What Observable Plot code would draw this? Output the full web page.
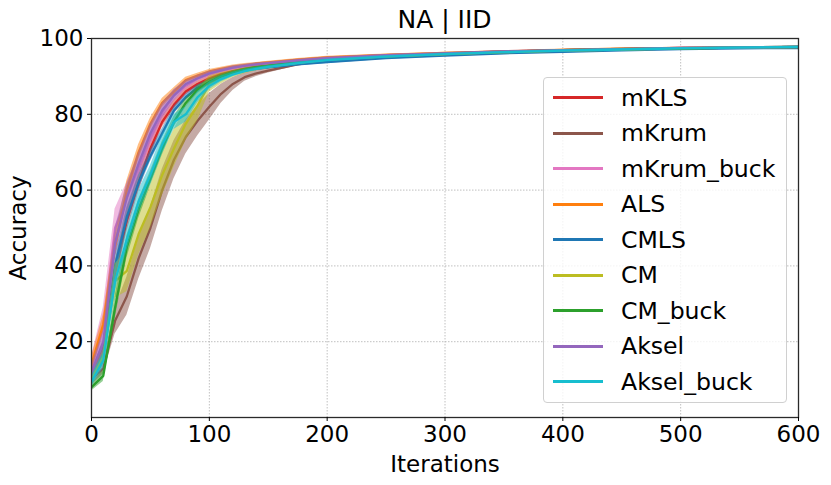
<!DOCTYPE html>
<html>
<head>
<meta charset="utf-8">
<script src="https://cdn.jsdelivr.net/npm/d3@7"></script>
<script src="https://cdn.jsdelivr.net/npm/@observablehq/plot@0.6"></script>
<style>
  html, body { margin: 0; padding: 0; background: #fff; }
  body { width: 831px; height: 485px; position: relative; overflow: hidden; font-family: "DejaVu Sans", sans-serif; color: #000; }
  #title { position: absolute; left: 91px; width: 707px; top: 7px; line-height: 1; font-size: 25px; text-align: center; z-index: 2; }
  #chart { position: absolute; left: 0; top: 0; }
  #legend { position: absolute; left: 543px; top: 77px; width: 244px; height: 326px; box-sizing: border-box; border: 1px solid #d0d0d0; border-radius: 4px; background: rgba(255,255,255,0.8); z-index: 2; }
  .lg-line { position: absolute; left: 9px; width: 50px; height: 3px; }
  .lg-text { position: absolute; left: 77px; font-size: 23.6px; line-height: 28px; white-space: nowrap; }
</style>
</head>
<body>
<div id="chart"></div>
<div id="title">NA | IID</div>
<div id="legend"></div>
<script>
const iterations = [0,10,20,30,40,50,60,70,80,90,100,110,120,130,140,150,175,200,250,300,350,400,450,500,550,600];
const xTicks = [0,100,200,300,400,500,600];
const yTicks = [20,40,60,80,100];
const names = ["mKLS","mKrum","mKrum_buck","ALS","CMLS","CM","CM_buck","Aksel","Aksel_buck"];
const colors = ["#d62728","#8c564b","#e377c2","#ff7f0e","#1f77b4","#bcbd22","#2ca02c","#9467bd","#17becf"];

const mKLS_mean      = [11,18,38,52,62,71,78,82.5,86,88,89.5,90.6,91.4,92.0,92.5,92.9,93.8,94.5,95.4,96.0,96.5,96.9,97.2,97.4,97.6,97.7];
const mKLS_sd        = [1.5,2,3,3,2.5,2,1.5,1.2,1,0.8,0.7,0.6,0.5,0.5,0.4,0.4,0.3,0.3,0.3,0.2,0.2,0.2,0.2,0.2,0.2,0.2];
const mKrum_mean     = [10,13,25.5,32,42,50,60,68,74,78.3,82,85.4,88,89.8,90.8,91.5,93.2,94.2,95.2,95.9,96.4,96.8,97.1,97.4,97.6,97.7];
const mKrum_sd       = [1.5,1.5,3.5,5,5.5,5.5,5.5,5,4.5,4,3.5,2.5,1.7,1.1,0.8,0.6,0.4,0.3,0.3,0.2,0.2,0.2,0.2,0.2,0.2,0.2];
const mKrumBuck_mean = [13,24,50,58,66,74,80.5,85,87.5,89.5,90.5,91.4,92.1,92.7,93.1,93.4,94.2,94.8,95.6,96.1,96.6,96.9,97.2,97.5,97.6,97.8];
const mKrumBuck_sd   = [3,5,5,4,3,2.5,2,1.5,1,0.8,0.6,0.5,0.5,0.4,0.4,0.3,0.3,0.3,0.2,0.2,0.2,0.2,0.2,0.2,0.2,0.2];
const ALS_mean       = [14,24.6,45,60,70,77.5,83,86,89,90.2,91.3,92.0,92.6,93.0,93.4,93.7,94.4,95.0,95.7,96.2,96.6,97.0,97.3,97.5,97.6,97.8];
const ALS_sd         = [2,2.5,3,2.5,2,1.5,1.2,1,0.8,0.6,0.5,0.4,0.4,0.4,0.3,0.3,0.3,0.3,0.2,0.2,0.2,0.2,0.2,0.2,0.2,0.2];
const CMLS_mean      = [11,17,40,53,62,69,75,81,84.5,87,88.5,89.8,90.8,91.5,92.0,92.4,93.2,93.8,94.8,95.5,96.1,96.5,96.9,97.2,97.4,97.5];
const CMLS_sd        = [1.5,2,3,2.5,2,1.5,1.2,1,0.8,0.7,0.6,0.5,0.5,0.4,0.4,0.4,0.4,0.4,0.3,0.3,0.3,0.3,0.2,0.2,0.2,0.2];
const CM_mean        = [10,16,36,38.7,48.4,55.5,64,71,77.5,82.3,88,89.5,90.7,91.5,92.1,92.6,93.6,94.4,95.3,95.9,96.4,96.8,97.1,97.4,97.6,97.7];
const CM_sd          = [1.5,2,4.5,5.5,5.5,5.5,5.5,5,4.5,4,2.2,1.5,1.0,0.8,0.6,0.5,0.4,0.3,0.3,0.2,0.2,0.2,0.2,0.2,0.2,0.2];
const CMBuck_mean    = [8,11,29,45,55,63,71,78,83,86.5,88.5,90,91,91.8,92.4,92.8,93.8,94.5,95.4,96.0,96.5,96.9,97.2,97.4,97.6,97.8];
const CMBuck_sd      = [1,1.5,3,3,2.5,2,1.8,1.5,1.2,1,0.8,0.6,0.5,0.4,0.4,0.3,0.3,0.3,0.2,0.2,0.2,0.2,0.2,0.2,0.2,0.2];
const Aksel_mean     = [12,20,46,58,67,75,81,85,88,89.5,90.8,91.6,92.3,92.8,93.2,93.5,94.2,94.8,95.6,96.1,96.6,96.9,97.2,97.5,97.6,97.8];
const Aksel_sd       = [2,3,4,3.5,3,2.5,2,1.5,1,0.8,0.6,0.5,0.5,0.4,0.4,0.3,0.3,0.3,0.2,0.2,0.2,0.2,0.2,0.2,0.2,0.2];
const AkselBuck_mean = [9.5,15,36,47,57,64,72,78,80,84.5,87.5,89.3,90.5,91.4,92.0,92.5,93.5,94.3,95.2,95.9,96.4,96.8,97.1,97.4,97.6,97.8];
const AkselBuck_sd   = [1.5,2,3,3,3,2.5,2.5,2,2,1.5,1,0.8,0.6,0.5,0.4,0.4,0.3,0.3,0.3,0.2,0.2,0.2,0.2,0.2,0.2,0.2];

const means = [mKLS_mean, mKrum_mean, mKrumBuck_mean, ALS_mean, CMLS_mean, CM_mean, CMBuck_mean, Aksel_mean, AkselBuck_mean];
const sds   = [mKLS_sd, mKrum_sd, mKrumBuck_sd, ALS_sd, CMLS_sd, CM_sd, CMBuck_sd, Aksel_sd, AkselBuck_sd];

const marks = [];
marks.push(Plot.ruleX(xTicks, {stroke: "#b0b0b0", strokeWidth: 0.8, strokeDasharray: "1.5,1.5"}));
marks.push(Plot.ruleY(yTicks, {stroke: "#b0b0b0", strokeWidth: 0.8, strokeDasharray: "1.5,1.5"}));
names.forEach((name, s) => {
  const rows = iterations.map((x, i) => ({
    x, y: means[s][i],
    lo: means[s][i] - sds[s][i],
    hi: Math.min(100, means[s][i] + sds[s][i])
  }));
  marks.push(Plot.areaY(rows, {x: "x", y1: "lo", y2: "hi", fill: colors[s], fillOpacity: 0.5, clip: true}));
  marks.push(Plot.lineY(rows, {x: "x", y: "y", stroke: colors[s], strokeWidth: 2.3, clip: true}));
});
marks.push(Plot.frame({stroke: "#2a2a2a", strokeWidth: 1.3}));
marks.push(Plot.axisX({ticks: xTicks, tickSize: 4, tickPadding: 4, fontSize: 23, label: "Iterations", labelAnchor: "center", labelOffset: 54, labelArrow: "none"}));
marks.push(Plot.axisY({ticks: yTicks, tickSize: 4, tickPadding: 4, fontSize: 23, label: "Accuracy", labelAnchor: "center", labelOffset: 82, labelArrow: "none"}));

const chart = Plot.plot({
  width: 831,
  height: 485,
  marginLeft: 91,
  marginRight: 33,
  marginTop: 38,
  marginBottom: 68,
  style: {fontFamily: "DejaVu Sans", fontSize: "23px", color: "#000", background: "#fff"},
  x: {domain: [0, 600]},
  y: {domain: [0, 100]},
  marks
});
document.getElementById("chart").appendChild(chart);

const legend = document.getElementById("legend");
names.forEach((name, i) => {
  const c = 19.7 + 35.5 * i;
  const line = document.createElement("div");
  line.className = "lg-line";
  line.style.background = colors[i];
  line.style.top = Math.round(c - 1.5) + "px";
  legend.appendChild(line);
  const t = document.createElement("div");
  t.className = "lg-text";
  t.style.top = Math.round(c - 13.8) + "px";
  t.textContent = name;
  legend.appendChild(t);
});
</script>
</body>
</html>
